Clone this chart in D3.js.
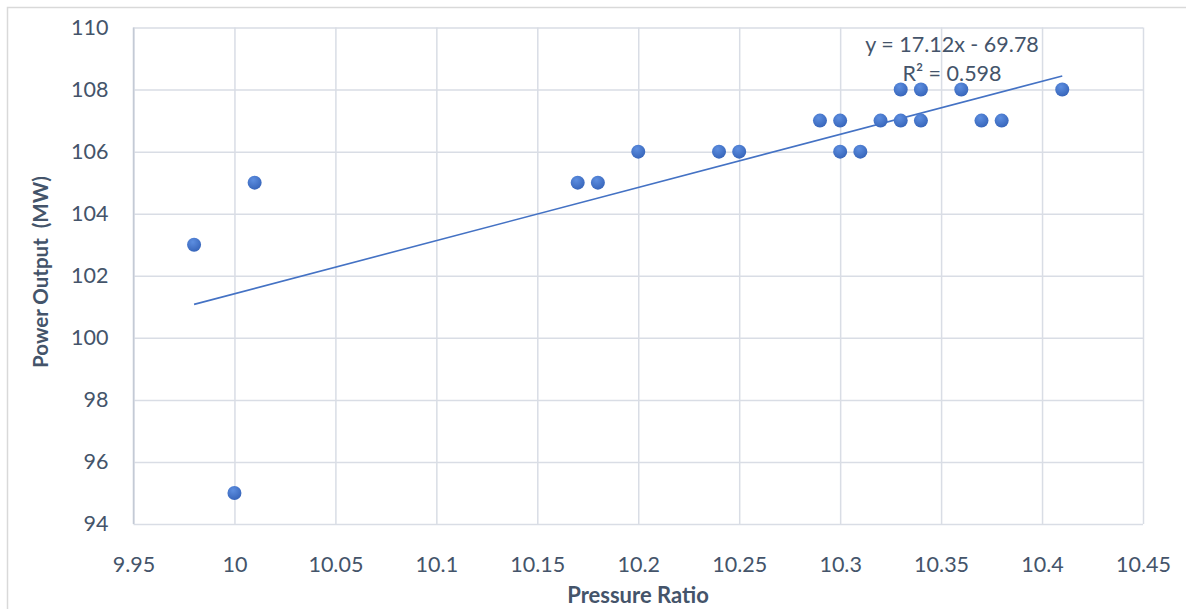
<!DOCTYPE html>
<html><head><meta charset="utf-8">
<script src="https://cdn.jsdelivr.net/npm/d3@7"></script>
<style>body{margin:0;background:#fff}svg{display:block}text{font-family:Lato,"Open Sans",sans-serif}</style>
</head><body><svg id="c" width="1186" height="609"></svg>
<script>
const pressureRatio = [9.98, 10.00, 10.01, 10.17, 10.18, 10.20, 10.24, 10.25, 10.29, 10.30, 10.30, 10.31, 10.32, 10.33, 10.33, 10.34, 10.34, 10.36, 10.37, 10.38, 10.41];
const powerOutput   = [103,  95,    105,   105,   105,   106,   106,   106,   107,   107,   106,   106,   107,   108,   107,   108,   107,   108,   107,   107,   108];
const xTicks = [9.95, 10, 10.05, 10.1, 10.15, 10.2, 10.25, 10.3, 10.35, 10.4, 10.45];
const yTicks = [94, 96, 98, 100, 102, 104, 106, 108, 110];
const trendSlope = 17.12, trendIntercept = -69.78;
const trendLabel = ["y = 17.12x - 69.78", "R² = 0.598"];
const xTitle = "Pressure Ratio", yTitle = "Power Output  (MW)";

const svg = d3.select("#c");
const L = 133.5, R = 1143, T = 27.5, B = 524;
const x = d3.scaleLinear().domain([9.95, 10.45]).range([L, R]);
const y = d3.scaleLinear().domain([94, 110]).range([B, T]);
const txt = "#44546a", grid = "#d9dde5";

svg.append("rect").attr("x", 7.5).attr("y", 7.5).attr("width", 1200).attr("height", 700)
  .attr("fill", "none").attr("stroke", "#d9d9d9").attr("stroke-width", 1.5);

const defs = svg.append("defs");
const g = defs.append("radialGradient").attr("id", "mk").attr("cx", "40%").attr("cy", "30%").attr("r", "75%");
g.append("stop").attr("offset", "0%").attr("stop-color", "#5d8ee0");
g.append("stop").attr("offset", "100%").attr("stop-color", "#3563b8");

svg.append("g").attr("transform", `translate(0,${B})`)
  .call(d3.axisBottom(x).tickValues(xTicks).tickSize(-(B - T)).tickFormat(d => String(+d.toFixed(2))).tickPadding(33))
  .call(a => a.select(".domain").remove())
  .call(a => a.selectAll("line").attr("stroke", grid).attr("stroke-width", 1.5))
  .call(a => a.selectAll("text").attr("fill", txt).style("font-size", "21.5px").attr("font-family", "Lato"));
svg.append("g").attr("transform", `translate(${L},0)`)
  .call(d3.axisLeft(y).tickValues(yTicks).tickSize(-(R - L)).tickPadding(25))
  .call(a => a.select(".domain").remove())
  .call(a => a.selectAll("line").attr("stroke", grid).attr("stroke-width", 1.5))
  .call(a => a.selectAll("text").attr("fill", txt).style("font-size", "21.5px").attr("font-family", "Lato"));

svg.append("line").attr("x1", L).attr("x2", L).attr("y1", T).attr("y2", B).attr("stroke", "#c4cad5").attr("stroke-width", 1.5);

const xs = d3.extent(pressureRatio);
svg.append("line")
  .attr("x1", x(xs[0])).attr("y1", y(trendSlope * xs[0] + trendIntercept))
  .attr("x2", x(xs[1])).attr("y2", y(trendSlope * xs[1] + trendIntercept))
  .attr("stroke", "#4472c4").attr("stroke-width", 1.6);

svg.append("g").selectAll("circle").data(pressureRatio.map((d, i) => [d, powerOutput[i]]))
  .join("circle").attr("cx", d => x(d[0])).attr("cy", d => y(d[1])).attr("r", 7)
  .attr("fill", "url(#mk)");

svg.append("text").attr("x", 952).attr("y", 52).attr("text-anchor", "middle").attr("fill", txt)
  .style("font-size", "21.5px").text(trendLabel[0]);
svg.append("text").attr("x", 952).attr("y", 81).attr("text-anchor", "middle").attr("fill", txt)
  .style("font-size", "21.5px").text(trendLabel[1]);

svg.append("text").attr("x", 638).attr("y", 603).attr("text-anchor", "middle").attr("fill", txt)
  .style("font-size", "22px").style("font-weight", "bold").text(xTitle);
svg.append("text").attr("transform", "translate(48,272) rotate(-90)").attr("text-anchor", "middle").attr("fill", txt)
  .style("font-size", "20.5px").style("font-weight", "bold").attr("xml:space", "preserve").text(yTitle);
</script></body></html>
